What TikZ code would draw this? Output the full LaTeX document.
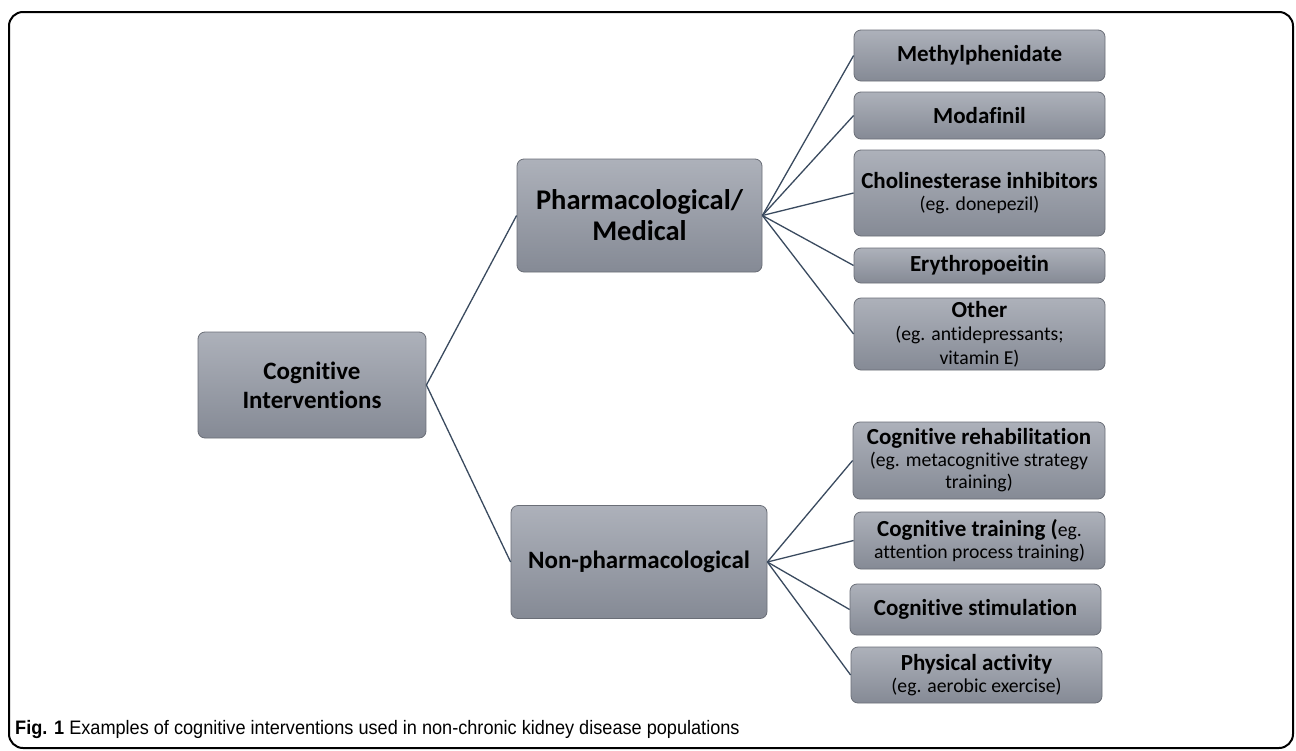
\documentclass[tikz,border=0pt]{standalone}
\usepackage{fontspec}
\setmainfont{Carlito}[Ligatures=NoCommon]
\newfontfamily\capfont[FakeStretch=0.93]{Liberation Sans}
\definecolor{boxtop}{HTML}{ADB1BA}
\definecolor{boxbot}{HTML}{858A95}
\definecolor{boxline}{HTML}{6A6E77}
\definecolor{linkcol}{HTML}{3A4A5F}
\tikzset{
  box/.style={draw=boxline, line width=0.8pt, rounded corners=7pt, top color=boxtop, bottom color=boxbot,
    align=center, inner sep=1pt, text=black},
  bigfont/.style={font=\fontsize{25}{29}\selectfont\bfseries},
  pharmfont/.style={font=\fontsize{28.5}{31}\selectfont\bfseries},
  smallfont/.style={font=\fontsize{19.7}{22}\selectfont},
  widefont/.style={font=\fontsize{19.7}{23.5}\selectfont},
  link/.style={draw=linkcol, line width=1.3pt},
}
\newcommand{\bb}[1]{{\fontsize{23}{22}\selectfont\bfseries #1}}
\begin{document}
\begin{tikzpicture}[x=1pt,y=-1pt]
\useasboundingbox (0,0) rectangle (1296,750);
\fill[white] (0,0) rectangle (1296,750);
\draw[line width=2pt, rounded corners=14pt] (9,12) rectangle (1293,748);

\node[box, bigfont, minimum width=228pt, minimum height=106pt] (ci) at (312,385) {Cognitive\\Interventions};
\node[box, pharmfont, minimum width=245pt, minimum height=113pt] (ph) at (639.5,215.5) {Pharmacological/\\Medical};
\node[box, bigfont, minimum width=256pt, minimum height=113pt] (np) at (639,562) {Non-pharmacological};

\node[box, smallfont, minimum width=251pt, minimum height=51pt] (m1) at (979.5,55.5) {\bb{Methylphenidate}};
\node[box, smallfont, minimum width=251pt, minimum height=47pt] (m2) at (979.5,115.5) {\bb{Modafinil}};
\node[box, smallfont, minimum width=251pt, minimum height=86pt] (m3) at (979.5,193) {\bb{Cholinesterase inhibitors}\\(eg. donepezil)};
\node[box, smallfont, minimum width=251pt, minimum height=35pt] (m4) at (979.5,265.5) {\bb{Erythropoeitin}};
\node[box, widefont, minimum width=251pt, minimum height=72pt] (m5) at (979.5,334) {\bb{Other}\\(eg. antidepressants;\\vitamin E)};

\node[box, smallfont, minimum width=252pt, minimum height=77pt] (n1) at (979,460.5) {\bb{Cognitive rehabilitation}\\(eg. metacognitive strategy\\training)};
\node[box, smallfont, minimum width=251pt, minimum height=57pt] (n2) at (979.5,540.5) {\bb{Cognitive training (}eg.\\attention process training)};
\node[box, smallfont, minimum width=251pt, minimum height=51pt] (n3) at (975.5,609.5) {\bb{Cognitive stimulation}};
\node[box, smallfont, minimum width=251pt, minimum height=56pt] (n4) at (976.5,675) {\bb{Physical activity}\\(eg. aerobic exercise)};

\draw[link] (ci.east) -- (ph.west);
\draw[link] (ci.east) -- (np.west);
\foreach \t in {m1,m2,m3,m4,m5} \draw[link] (ph.east) -- (\t.west);
\foreach \t in {n1,n2,n3,n4} \draw[link] (np.east) -- (\t.west);

\node[anchor=base west, inner sep=0pt, font=\capfont\fontsize{19.5}{22}\selectfont] (cap) at (15,734)
  {\textbf{Fig. 1} Examples of cognitive interventions used in non-chronic kidney disease populations};
\end{tikzpicture}
\end{document}
